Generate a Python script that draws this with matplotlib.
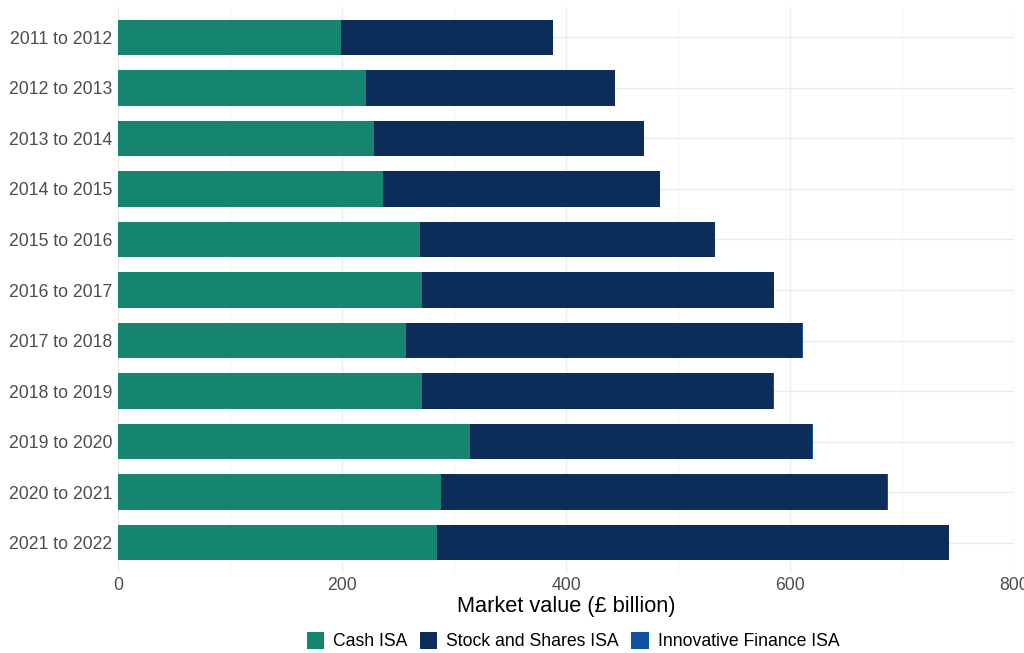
import matplotlib
matplotlib.use('Agg')
import matplotlib.pyplot as plt
import numpy as np

plt.rcParams['font.family'] = ['Liberation Sans', 'DejaVu Sans']

# Data (market value, GBP billion)
years = ['2011 to 2012', '2012 to 2013', '2013 to 2014', '2014 to 2015',
         '2015 to 2016', '2016 to 2017', '2017 to 2018', '2018 to 2019',
         '2019 to 2020', '2020 to 2021', '2021 to 2022']
cash = [199, 221, 229, 237, 270, 271, 257, 271, 314, 288, 285]
stocks = [189, 223, 241, 247, 263, 315, 354, 314, 306, 399, 457]
innovative = [0, 0, 0, 0, 0, 0.1, 0.2, 0.3, 0.3, 0.4, 0.4]

series_names = ['Cash ISA', 'Stock and Shares ISA', 'Innovative Finance ISA']
colors = ['#168570', '#0c2c5a', '#12529f']

fig = plt.figure(figsize=(10.24, 6.53), dpi=100)
ax = fig.add_axes([118 / 1024, 1 - 573 / 653, (1014 - 118) / 1024, (573 - 7) / 653])

# Categories from top to bottom
y = np.arange(len(years))[::-1]
left = np.zeros(len(years))
for vals, name, col in zip([cash, stocks, innovative], series_names, colors):
    vals = np.array(vals, dtype=float)
    ax.barh(y, vals, left=left, height=0.7, color=col, label=name,
            edgecolor='none', zorder=3)
    left += vals

ax.set_xlim(0, 800)
ax.set_ylim(-0.6, len(years) - 1 + 0.6)
ax.set_yticks(y)
ax.set_yticklabels(years)
ax.set_xticks([0, 200, 400, 600, 800])
ax.set_xticks([100, 300, 500, 700], minor=True)

# Grid like ggplot minimal
ax.grid(axis='x', which='major', color='#ebebeb', linewidth=1.0, zorder=0)
ax.grid(axis='x', which='minor', color='#f3f3f3', linewidth=0.6, zorder=0)
ax.grid(axis='y', which='major', color='#ebebeb', linewidth=1.0, zorder=0)
for s in ax.spines.values():
    s.set_visible(False)
ax.tick_params(axis='both', which='both', length=0, labelsize=12.7,
               labelcolor='#4d4d4d', pad=4)
ax.tick_params(axis='x', pad=3)

ax.set_xlabel('Market value (£ billion)', fontsize=15.7, color='black', labelpad=1)

handles, labels = ax.get_legend_handles_labels()
fig.legend(handles, labels, loc='center', bbox_to_anchor=(573 / 1024, 1 - 641 / 653),
           ncol=3, frameon=False, fontsize=12.7, handlelength=1.0, handleheight=1.1,
           handletextpad=0.5, columnspacing=0.7)

fig.savefig('out.png', dpi=100)
plt.close(fig)
